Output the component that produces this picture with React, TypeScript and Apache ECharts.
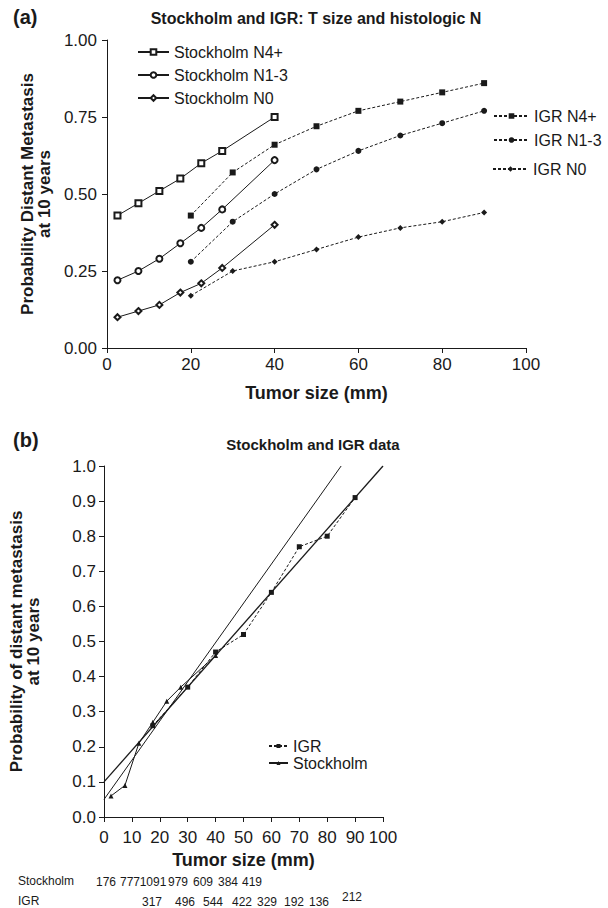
import React, { useEffect, useRef } from "react";
import * as echarts from "echarts";

// ---- Panel (a) data ----
const stockholmX = [2.5, 7.5, 12.5, 17.5, 22.5, 27.5, 40];
const stockholmN4 = [0.43, 0.47, 0.51, 0.55, 0.6, 0.64, 0.75];
const stockholmN13 = [0.22, 0.25, 0.29, 0.34, 0.39, 0.45, 0.61];
const stockholmN0 = [0.1, 0.12, 0.14, 0.18, 0.21, 0.26, 0.4];
const igrX = [20, 30, 40, 50, 60, 70, 80, 90];
const igrN4 = [0.43, 0.57, 0.66, 0.72, 0.77, 0.8, 0.83, 0.86];
const igrN13 = [0.28, 0.41, 0.5, 0.58, 0.64, 0.69, 0.73, 0.77];
const igrN0 = [0.17, 0.25, 0.28, 0.32, 0.36, 0.39, 0.41, 0.44];

// ---- Panel (b) data ----
const bStockholmX = [2.5, 7.5, 12.5, 17.5, 22.5, 27.5, 40];
const bStockholmY = [0.06, 0.09, 0.21, 0.27, 0.33, 0.37, 0.46];
const bIgrX = [17.5, 30, 40, 50, 60, 70, 80, 90];
const bIgrY = [0.26, 0.37, 0.47, 0.52, 0.64, 0.77, 0.8, 0.91];
const fitLineA = [[0, 0.1], [100, 1.0]];
const fitLineB = [[0, 0.05], [85, 1.0]];

// ---- Table of counts ----
const stockholmCounts = [176, 777, 1091, 979, 609, 384, 419];
const igrCounts = [317, 496, 544, 422, 329, 192, 136, 212];
const stockholmCountPos = [106, 130, 153, 178, 203, 228, 252];
const igrCountPos = [152, 185, 213, 242, 267, 294, 319, 352];

const pairs = (xs: number[], ys: number[]) => xs.map((x, i) => [x, ys[i]]);

const FONT = "Liberation Sans, Arial, sans-serif";
const INK = "#1a1a1a";

export default function App() {
  const ref = useRef<HTMLDivElement>(null);
  useEffect(() => {
    if (!ref.current) return;
    const chart = echarts.init(ref.current, null, { renderer: "svg" });

    const axisCommon = {
      axisLine: { show: true, lineStyle: { color: INK, width: 1 } },
      axisTick: { show: true, inside: false, length: 5, lineStyle: { color: INK } },
      splitLine: { show: false },
      axisLabel: { color: INK, fontFamily: FONT, fontSize: 17, margin: 8 },
      nameTextStyle: { color: INK, fontFamily: FONT, fontSize: 17, fontWeight: "bold" as const },
    };

    const solid = { color: INK, width: 1, type: "solid" as const };
    const dashed = { color: INK, width: 1, type: [3, 2] as any };

    const legendText = { color: INK, fontFamily: FONT, fontSize: 16 };

    const option: any = {
      animation: false,
      backgroundColor: "#ffffff",
      title: [
        { text: "(a)", left: 8, top: 2, textStyle: { fontFamily: FONT, fontSize: 20, fontWeight: "bold", color: INK } },
        {
          text: "Stockholm and IGR: T size and histologic N",
          left: 311, top: 5, textAlign: "center",
          textStyle: { fontFamily: FONT, fontSize: 16, fontWeight: "bold", color: INK },
        },
        { text: "(b)", left: 8, top: 425, textStyle: { fontFamily: FONT, fontSize: 20, fontWeight: "bold", color: INK } },
        {
          text: "Stockholm and IGR data",
          left: 308, top: 432, textAlign: "center",
          textStyle: { fontFamily: FONT, fontSize: 15, fontWeight: "bold", color: INK },
        },
      ],
      grid: [
        { left: 107, top: 40, width: 419, height: 308 },
        { left: 104, top: 466, width: 279, height: 351 },
      ],
      xAxis: [
        {
          ...axisCommon, gridIndex: 0, type: "value", min: 0, max: 100, interval: 20,
          name: "Tumor size (mm)", nameLocation: "middle", nameGap: 36,
          nameTextStyle: { ...axisCommon.nameTextStyle, fontSize: 18 },
        },
        {
          ...axisCommon, gridIndex: 1, type: "value", min: 0, max: 100, interval: 10,
          axisLabel: { ...axisCommon.axisLabel, margin: 12 },
          name: "Tumor size (mm)", nameLocation: "middle", nameGap: 34,
          nameTextStyle: { ...axisCommon.nameTextStyle, fontSize: 18 },
        },
      ],
      yAxis: [
        {
          ...axisCommon, gridIndex: 0, type: "value", min: 0, max: 1, interval: 0.25,
          axisLabel: { ...axisCommon.axisLabel, margin: 10, formatter: (v: number) => v.toFixed(2) },
          name: "Probability Distant Metastasis\nat 10 years", nameLocation: "middle", nameGap: 50, nameRotate: 90,
        },
        {
          ...axisCommon, gridIndex: 1, type: "value", min: 0, max: 1, interval: 0.1,
          axisLabel: { ...axisCommon.axisLabel, margin: 8, formatter: (v: number) => v.toFixed(1) },
          name: "Probability of distant metastasis\nat 10 years", nameLocation: "middle", nameGap: 62, nameRotate: 90,
        },
      ],
      legend: [
        {
          data: ["Stockholm N4+", "Stockholm N1-3", "Stockholm N0"],
          orient: "vertical", left: 137, top: 44, padding: 0, itemGap: 7, itemWidth: 31, itemHeight: 7,
          textStyle: legendText,
        },
        { data: ["IGR N4+"], left: 493, top: 108, padding: 0, itemWidth: 35, itemHeight: 7, textStyle: legendText },
        { data: ["IGR N1-3"], left: 493, top: 132, padding: 0, itemWidth: 35, itemHeight: 7, textStyle: legendText },
        { data: ["IGR N0"], left: 492, top: 161, padding: 0, itemWidth: 35, itemHeight: 7, textStyle: legendText },
        {
          data: ["IGR", "Stockholm"],
          orient: "vertical", left: 268, top: 738, padding: 0, itemGap: 1, itemWidth: 19, itemHeight: 5,
          textStyle: legendText,
        },
      ],
      series: [
        {
          name: "Stockholm N4+", type: "line", xAxisIndex: 0, yAxisIndex: 0,
          data: pairs(stockholmX, stockholmN4), lineStyle: solid,
          symbol: "emptyRect", symbolSize: 6, itemStyle: { color: INK, borderWidth: 1 },
        },
        {
          name: "Stockholm N1-3", type: "line", xAxisIndex: 0, yAxisIndex: 0,
          data: pairs(stockholmX, stockholmN13), lineStyle: solid,
          symbol: "emptyCircle", symbolSize: 6, itemStyle: { color: INK, borderWidth: 1 },
        },
        {
          name: "Stockholm N0", type: "line", xAxisIndex: 0, yAxisIndex: 0,
          data: pairs(stockholmX, stockholmN0), lineStyle: solid,
          symbol: "emptyDiamond", symbolSize: 6, itemStyle: { color: INK, borderWidth: 1 },
        },
        {
          name: "IGR N4+", type: "line", xAxisIndex: 0, yAxisIndex: 0,
          data: pairs(igrX, igrN4), lineStyle: dashed,
          symbol: "rect", symbolSize: 6, itemStyle: { color: INK },
        },
        {
          name: "IGR N1-3", type: "line", xAxisIndex: 0, yAxisIndex: 0,
          data: pairs(igrX, igrN13), lineStyle: dashed,
          symbol: "circle", symbolSize: 6, itemStyle: { color: INK },
        },
        {
          name: "IGR N0", type: "line", xAxisIndex: 0, yAxisIndex: 0,
          data: pairs(igrX, igrN0), lineStyle: dashed,
          symbol: "diamond", symbolSize: 6, itemStyle: { color: INK },
        },
        {
          name: "fitA", type: "line", xAxisIndex: 1, yAxisIndex: 1,
          data: fitLineA, lineStyle: { color: INK, width: 1.3 }, symbol: "none",
        },
        {
          name: "fitB", type: "line", xAxisIndex: 1, yAxisIndex: 1,
          data: fitLineB, lineStyle: { color: INK, width: 1 }, symbol: "none",
        },
        {
          name: "IGR", type: "line", xAxisIndex: 1, yAxisIndex: 1,
          data: pairs(bIgrX, bIgrY), lineStyle: dashed,
          symbol: "rect", symbolSize: 5, itemStyle: { color: INK },
        },
        {
          name: "Stockholm", type: "line", xAxisIndex: 1, yAxisIndex: 1,
          data: pairs(bStockholmX, bStockholmY), lineStyle: solid,
          symbol: "triangle", symbolSize: 5, itemStyle: { color: INK },
        },
      ],
      graphic: [
        {
          type: "text", left: 18, top: 875,
          style: { text: "Stockholm", fontFamily: FONT, fontSize: 12, fill: INK },
        },
        {
          type: "text", left: 18, top: 895,
          style: { text: "IGR", fontFamily: FONT, fontSize: 12, fill: INK },
        },
        ...stockholmCounts.map((c, i) => ({
          type: "text", x: stockholmCountPos[i], y: 882,
          style: { text: String(c), fontFamily: FONT, fontSize: 12, fill: INK, align: "center", verticalAlign: "middle" },
        })),
        ...igrCounts.map((c, i) => ({
          type: "text", x: igrCountPos[i], y: i === igrCounts.length - 1 ? 897 : 902,
          style: { text: String(c), fontFamily: FONT, fontSize: 12, fill: INK, align: "center", verticalAlign: "middle" },
        })),
      ],
    };
    chart.setOption(option);
    return () => chart.dispose();
  }, []);
  return (
    <div
      ref={ref}
      style={{ position: "absolute", left: 0, top: 0, width: 608, height: 908, background: "#fff" }}
    />
  );
}
